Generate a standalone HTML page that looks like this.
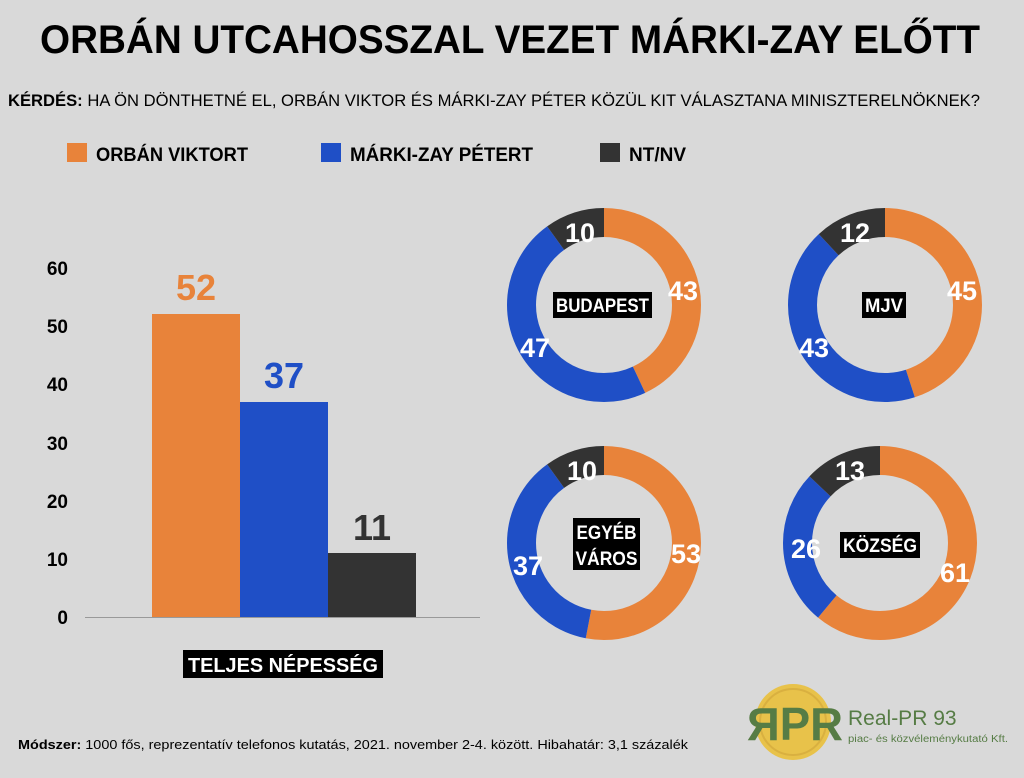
<!DOCTYPE html>
<html><head><meta charset="utf-8"><style>
body{margin:0;background:#d9d9d9;}
svg{display:block;font-family:"Liberation Sans",sans-serif;}
</style></head><body>
<svg width="1024" height="778" viewBox="0 0 1024 778">
<rect width="1024" height="778" fill="#d9d9d9"/>
<text x="40" y="53" font-size="40" font-weight="bold" textLength="940" lengthAdjust="spacingAndGlyphs">ORBÁN UTCAHOSSZAL VEZET MÁRKI-ZAY ELŐTT</text>
<text x="8" y="106" font-size="17" textLength="972" lengthAdjust="spacingAndGlyphs"><tspan font-weight="bold">KÉRDÉS:</tspan> HA ÖN DÖNTHETNÉ EL, ORBÁN VIKTOR ÉS MÁRKI-ZAY PÉTER KÖZÜL KIT VÁLASZTANA MINISZTERELNÖKNEK?</text>
<rect x="67" y="143" width="20" height="19" fill="#e8833a"/>
<text x="96" y="161" font-size="19" font-weight="bold" textLength="152" lengthAdjust="spacingAndGlyphs">ORBÁN VIKTORT</text>
<rect x="321" y="143" width="20" height="19" fill="#1f4fc6"/>
<text x="350" y="161" font-size="19" font-weight="bold" textLength="183" lengthAdjust="spacingAndGlyphs">MÁRKI-ZAY PÉTERT</text>
<rect x="600" y="143" width="20" height="19" fill="#333"/>
<text x="629" y="161" font-size="19" font-weight="bold" textLength="57" lengthAdjust="spacingAndGlyphs">NT/NV</text>

<g font-size="19" font-weight="bold" text-anchor="end">
<text x="68" y="275">60</text><text x="68" y="333">50</text><text x="68" y="391">40</text>
<text x="68" y="450">30</text><text x="68" y="508">20</text><text x="68" y="566">10</text><text x="68" y="624">0</text>
</g>
<line x1="85" y1="617.5" x2="480" y2="617.5" stroke="#999" stroke-width="1"/>
<rect x="152" y="314" width="88" height="303" fill="#e8833a"/>
<rect x="240" y="402" width="88" height="215" fill="#1f4fc6"/>
<rect x="328" y="553" width="88" height="64" fill="#333"/>
<g font-size="36" font-weight="bold" text-anchor="middle">
<text x="196" y="300" fill="#e8833a">52</text>
<text x="284" y="388" fill="#1f4fc6">37</text>
<text x="372" y="540" fill="#333">11</text>
</g>
<rect x="183" y="650" width="200" height="28" fill="#000"/>
<text x="283" y="672" font-size="20" font-weight="bold" fill="#fff" text-anchor="middle" textLength="190" lengthAdjust="spacingAndGlyphs">TELJES NÉPESSÉG</text>

<!-- donuts: circumference 518.36 -->
<g fill="none" stroke-width="29">
<g transform="translate(604,305) rotate(-90)">
<circle r="82.5" stroke="#e8833a" stroke-dasharray="222.9 518.4"/>
<circle r="82.5" stroke="#1f4fc6" stroke-dasharray="0 222.9 243.6 518.4"/>
<circle r="82.5" stroke="#333" stroke-dasharray="0 466.5 51.9 518.4"/>
</g>
<g transform="translate(885,305) rotate(-90)">
<circle r="82.5" stroke="#e8833a" stroke-dasharray="233.3 518.4"/>
<circle r="82.5" stroke="#1f4fc6" stroke-dasharray="0 233.3 222.9 518.4"/>
<circle r="82.5" stroke="#333" stroke-dasharray="0 456.2 62.2 518.4"/>
</g>
<g transform="translate(604,543) rotate(-90)">
<circle r="82.5" stroke="#e8833a" stroke-dasharray="274.7 518.4"/>
<circle r="82.5" stroke="#1f4fc6" stroke-dasharray="0 274.7 191.8 518.4"/>
<circle r="82.5" stroke="#333" stroke-dasharray="0 466.5 51.9 518.4"/>
</g>
<g transform="translate(880,543) rotate(-90)">
<circle r="82.5" stroke="#e8833a" stroke-dasharray="316.2 518.4"/>
<circle r="82.5" stroke="#1f4fc6" stroke-dasharray="0 316.2 134.8 518.4"/>
<circle r="82.5" stroke="#333" stroke-dasharray="0 451 67.4 518.4"/>
</g>
</g>
<g font-size="27" font-weight="bold" fill="#fff" text-anchor="middle">
<text x="683" y="300">43</text><text x="535" y="357">47</text><text x="580" y="242">10</text>
<text x="962" y="300">45</text><text x="814" y="357">43</text><text x="855" y="242">12</text>
<text x="686" y="563">53</text><text x="528" y="575">37</text><text x="582" y="480">10</text>
<text x="955" y="582">61</text><text x="806" y="558">26</text><text x="850" y="480">13</text>
</g>
<g font-size="19" font-weight="bold" fill="#fff" text-anchor="middle">
<rect x="553" y="292" width="99" height="26" fill="#000"/>
<text x="602.5" y="312" textLength="93" lengthAdjust="spacingAndGlyphs">BUDAPEST</text>
<rect x="862" y="292" width="44" height="26" fill="#000"/>
<text x="884" y="312" textLength="38" lengthAdjust="spacingAndGlyphs">MJV</text>
<rect x="573" y="518" width="67" height="52" fill="#000"/>
<text x="606.5" y="539" textLength="60" lengthAdjust="spacingAndGlyphs">EGYÉB</text>
<text x="606.5" y="565" textLength="62" lengthAdjust="spacingAndGlyphs">VÁROS</text>
<rect x="840" y="532" width="80" height="26" fill="#000"/>
<text x="880" y="552" textLength="74" lengthAdjust="spacingAndGlyphs">KÖZSÉG</text>
</g>

<text x="18" y="749" font-size="13" textLength="670" lengthAdjust="spacingAndGlyphs"><tspan font-weight="bold">Módszer:</tspan> 1000 fős, reprezentatív telefonos kutatás, 2021. november 2-4. között. Hibahatár: 3,1 százalék</text>

<circle cx="793" cy="722" r="38" fill="#e8c24a"/>
<circle cx="793" cy="722" r="33" fill="none" stroke="#d9b040" stroke-width="2"/>
<text x="795" y="740" font-size="46" font-weight="bold" fill="#567c45" text-anchor="middle" textLength="96" lengthAdjust="spacingAndGlyphs">ЯPR</text>
<text x="848" y="725" font-size="21" fill="#567c45">Real-PR 93</text>
<text x="848" y="742" font-size="10" fill="#567c45" textLength="160" lengthAdjust="spacingAndGlyphs">piac- és közvéleménykutató Kft.</text>
</svg>
</body></html>
